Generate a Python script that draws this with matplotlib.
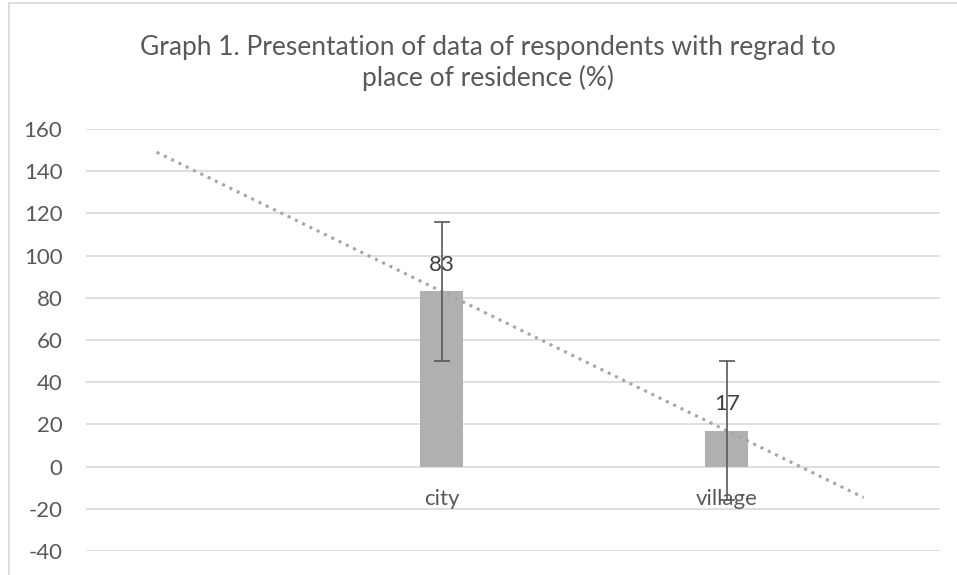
import numpy as np
import matplotlib
matplotlib.use('Agg')
from matplotlib import pyplot as plt
from matplotlib.lines import Line2D

plt.rcParams['font.family'] = ['Lato', 'DejaVu Sans']
plt.rcParams['axes.unicode_minus'] = False

categories = ['city', 'village']
positions = [1, 2]
values = [83, 17]
errors = [33, 33]
yticks = [-40, -20, 0, 20, 40, 60, 80, 100, 120, 140, 160]
title = 'Graph 1. Presentation of data of respondents with regrad to\nplace of residence (%)'

txt = '#595959'
grid = '#d9d9d9'

fig = plt.figure(figsize=(9.57, 5.75), dpi=100)
ax = fig.add_axes([86/957, 1-551/575, (940-86)/957, (551-129)/575])

# linear trendline, backward forecast 1, forward ~0.48
k, b = np.polyfit(positions, values, 1)
tx = np.array([0, 2.48])
ax.plot(tx, k*tx + b, ls=':', lw=2.2, color='#a6a6a6', zorder=3)

ax.bar(positions, values, width=0.152, color='#b0b0b0', zorder=2)
ax.errorbar(positions, values, yerr=errors, fmt='none', ecolor=txt,
            elinewidth=1.2, capsize=6, capthick=1.2, zorder=4)

for p, v in zip(positions, values):
    ax.annotate(str(v), (p, v), xytext=(0, 19), textcoords='offset points',
                ha='center', va='center', fontsize=16, color='#404040', zorder=5)
for p, c in zip(positions, categories):
    ax.annotate(c, (p, 0), xytext=(0, -23), textcoords='offset points',
                ha='center', va='center', fontsize=16, color=txt)

ax.set_xlim(-0.248, 2.748)
ax.set_ylim(-40, 160)
ax.set_yticks(yticks)
ax.set_xticks([])
ax.grid(axis='y', color=grid, lw=1.2, zorder=0)
ax.set_axisbelow(True)
for s in ax.spines.values():
    s.set_visible(False)
ax.tick_params(axis='y', length=0, pad=17, labelsize=16, labelcolor=txt)

fig.text(0.51, 1-63/575, title, ha='center', va='center', fontsize=19,
         color=txt, linespacing=1.25)

# chart frame edges
fig.add_artist(Line2D([9/957, 1], [1-3/575, 1-3/575], color=grid, lw=1.2))
fig.add_artist(Line2D([9/957, 9/957], [0, 1-3/575], color=grid, lw=1.2))

fig.savefig('out.png', dpi=100)
